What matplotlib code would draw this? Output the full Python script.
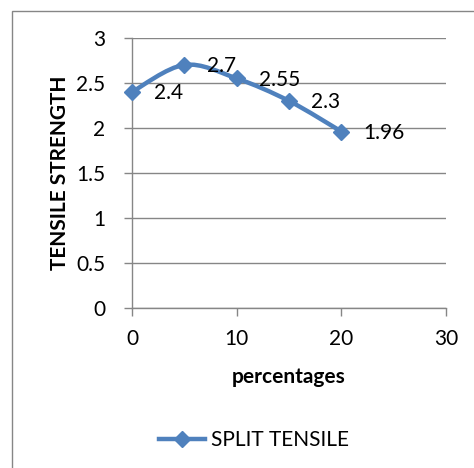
import numpy as np
import matplotlib.pyplot as plt
from matplotlib.path import Path
from matplotlib.patches import PathPatch, Rectangle
from matplotlib.lines import Line2D

percent = [0, 5, 10, 15, 20]
strength = [2.4, 2.7, 2.55, 2.3, 1.96]
point_labels = ["2.4", "2.7", "2.55", "2.3", "1.96"]
series_name = "SPLIT TENSILE"

blue = "#4F81BD"
grey = "#868686"
plt.rcParams['font.family'] = ['Lato', 'DejaVu Sans']
fs = 15


def smooth_path(xs, ys):
    # Excel-like smoothed line: bezier segments through the points
    pts = np.column_stack([xs, ys]).astype(float)
    verts = [pts[0]]
    codes = [Path.MOVETO]
    n = len(pts)
    for i in range(n - 1):
        p0 = pts[i - 1] if i > 0 else pts[i]
        p1 = pts[i]
        p2 = pts[i + 1]
        p3 = pts[i + 2] if i + 2 < n else pts[i + 1]
        c1 = p1 + (p2 - p0) / 6.0
        c2 = p2 - (p3 - p1) / 6.0
        verts += [c1, c2, p2]
        codes += [Path.CURVE4] * 3
    return Path(verts, codes)


fig = plt.figure(figsize=(4.74, 4.68), dpi=100)
ax = fig.add_axes([0.2785, 0.342, 0.6625, 0.577])

# outer chart frame
fig.patches.append(Rectangle((12 / 474, -0.1), 1.2, 1 - 11 / 468 + 0.1, transform=fig.transFigure,
                             fill=False, edgecolor=grey, linewidth=1.0))

ax.add_patch(PathPatch(smooth_path(percent, strength), fill=False, edgecolor=blue,
                       linewidth=3.2, capstyle='round', zorder=3))
ax.plot(percent, strength, linestyle='none', marker='D', markersize=8,
        color=blue, markeredgecolor=blue, zorder=4, clip_on=False)

for x, y, lab in zip(percent, strength, point_labels):
    ax.annotate(lab, (x, y), xytext=(16, -1), textcoords='offset points',
                ha='left', va='center', fontsize=fs, color='black', zorder=5)

ax.set_xlim(0, 30)
ax.set_ylim(0, 3)
ax.set_xticks([0, 10, 20, 30])
ax.set_yticks([0, 0.5, 1, 1.5, 2, 2.5, 3])
ax.set_yticklabels(["0", "0.5", "1", "1.5", "2", "2.5", "3"])
ax.yaxis.grid(True, color=grey, linewidth=1.0)
ax.set_axisbelow(True)
for s in ['top', 'right']:
    ax.spines[s].set_visible(False)
for s in ['left', 'bottom']:
    ax.spines[s].set_color(grey)
    ax.spines[s].set_linewidth(1.0)
ax.tick_params(axis='both', direction='out', length=6, width=1.0, color=grey, labelsize=fs)
ax.tick_params(axis='y', pad=13)
ax.tick_params(axis='x', pad=9)

ax.set_xlabel("percentages", fontsize=fs, fontweight='bold', labelpad=13)
ax.set_ylabel("TENSILE STRENGTH", fontsize=fs, fontweight='bold', labelpad=5)

handle = Line2D([], [], color=blue, linewidth=3.2, marker='D', markersize=8)
fig.legend([handle], [series_name], loc='center', bbox_to_anchor=(254 / 474, 1 - 440 / 468),
           frameon=False, fontsize=fs, handlelength=2.2, handletextpad=0.25)

fig.savefig("out.png", dpi=100)
